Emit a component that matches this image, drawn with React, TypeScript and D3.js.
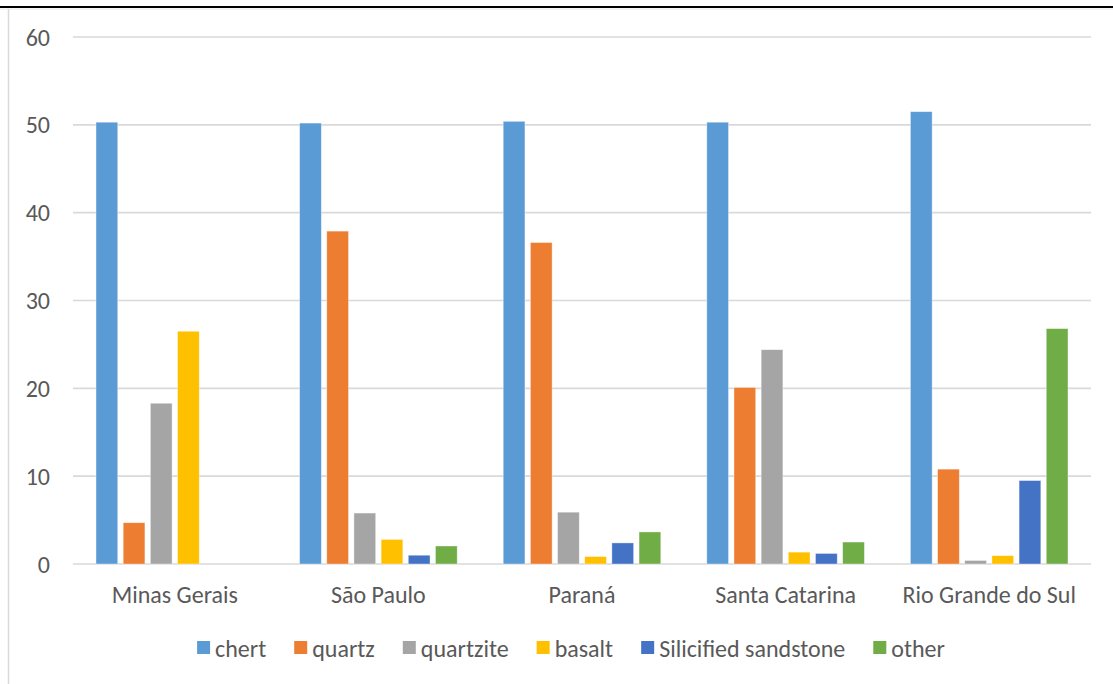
import React from "react";
import * as d3 from "d3";

const categories = ["Minas Gerais", "São Paulo", "Paraná", "Santa Catarina", "Rio Grande do Sul"];
const seriesNames = ["chert", "quartz", "quartzite", "basalt", "Silicified sandstone", "other"];
const seriesColors = ["#5B9BD5", "#ED7D31", "#A5A5A5", "#FFC000", "#4472C4", "#70AD47"];
const chert = [50.3, 50.2, 50.4, 50.3, 51.5];
const quartz = [4.7, 37.9, 36.6, 20.1, 10.8];
const quartzite = [18.3, 5.8, 5.9, 24.4, 0.4];
const basalt = [26.5, 2.8, 0.85, 1.35, 0.95];
const silicified = [0, 1.0, 2.4, 1.2, 9.5];
const other = [0, 2.05, 3.65, 2.5, 26.8];
const yTicks = [0, 10, 20, 30, 40, 50, 60];

const seriesValues = [chert, quartz, quartzite, basalt, silicified, other];

const FONT = "Carlito, Lato, 'Open Sans', sans-serif";
const FS = 24;

function measure(text: string, size: number) {
  const c = document.createElement("canvas").getContext("2d")!;
  c.font = `${size}px ${FONT}`;
  return c.measureText(text).width;
}

export default function App() {
  const W = 1113, H = 684;
  const left = 73, right = 1091, top = 37, bottom = 564;
  const x0 = d3.scaleBand<string>().domain(categories).range([left, right]).paddingInner(0.226).paddingOuter(0.113);
  const x1 = d3.scaleBand<string>().domain(seriesNames).range([0, x0.bandwidth()]).paddingInner(0.2);
  const y = d3.scaleLinear().domain([0, 60]).range([bottom, top]);

  // legend layout
  const sq = 13, gapSqText = 5, gapItem = 28;
  const widths = seriesNames.map((n) => measure(n, FS));
  const total = widths.reduce((a, w) => a + sq + gapSqText + w, 0) + gapItem * (seriesNames.length - 1);
  let lx = 571 - total / 2;
  const legendItems = seriesNames.map((n, i) => {
    const item = { name: n, x: lx, color: seriesColors[i] };
    lx += sq + gapSqText + widths[i] + gapItem;
    return item;
  });

  return (
    <svg width={W} height={H} style={{ position: "absolute", left: 0, top: 0, background: "#fff" }} fontFamily={FONT}>
      <rect x={0} y={0} width={W} height={H} fill="#fff" />
      <line x1={0} x2={W} y1={7} y2={7} stroke="#000" strokeWidth={2} />
      <line x1={0} x2={W} y1={9} y2={9} stroke="#eaeaea" strokeWidth={1} />
      <line x1={8.5} x2={8.5} y1={9} y2={H} stroke="#d9d9d9" strokeWidth={1.5} />
      {yTicks.map((t) => (
        <g key={t}>
          <line x1={left} x2={right} y1={y(t)} y2={y(t)} stroke="#d9d9d9" strokeWidth={1.6} />
          <text x={50} y={y(t)} dy="0.36em" textAnchor="end" fontSize={FS} fill="#595959">{t}</text>
        </g>
      ))}
      {categories.map((c, ci) => (
        <g key={c} transform={`translate(${x0(c)},0)`}>
          {seriesNames.map((s, si) => {
            const v = seriesValues[si][ci];
            if (!v) return null;
            return (
              <rect key={s} x={x1(s)} y={y(v)} width={x1.bandwidth()} height={y(0) - y(v)}
                fill={seriesColors[si]} stroke="#fff" strokeOpacity={0.5} strokeWidth={0.75} />
            );
          })}
        </g>
      ))}
      {categories.map((c) => (
        <text key={c} x={x0(c)! + x0.bandwidth() / 2} y={603} textAnchor="middle" fontSize={FS} fill="#595959">{c}</text>
      ))}
      {legendItems.map((it) => (
        <g key={it.name}>
          <rect x={it.x} y={641} width={sq} height={sq} fill={it.color} />
          <text x={it.x + sq + gapSqText} y={656.5} fontSize={FS} fill="#595959">{it.name}</text>
        </g>
      ))}
    </svg>
  );
}
